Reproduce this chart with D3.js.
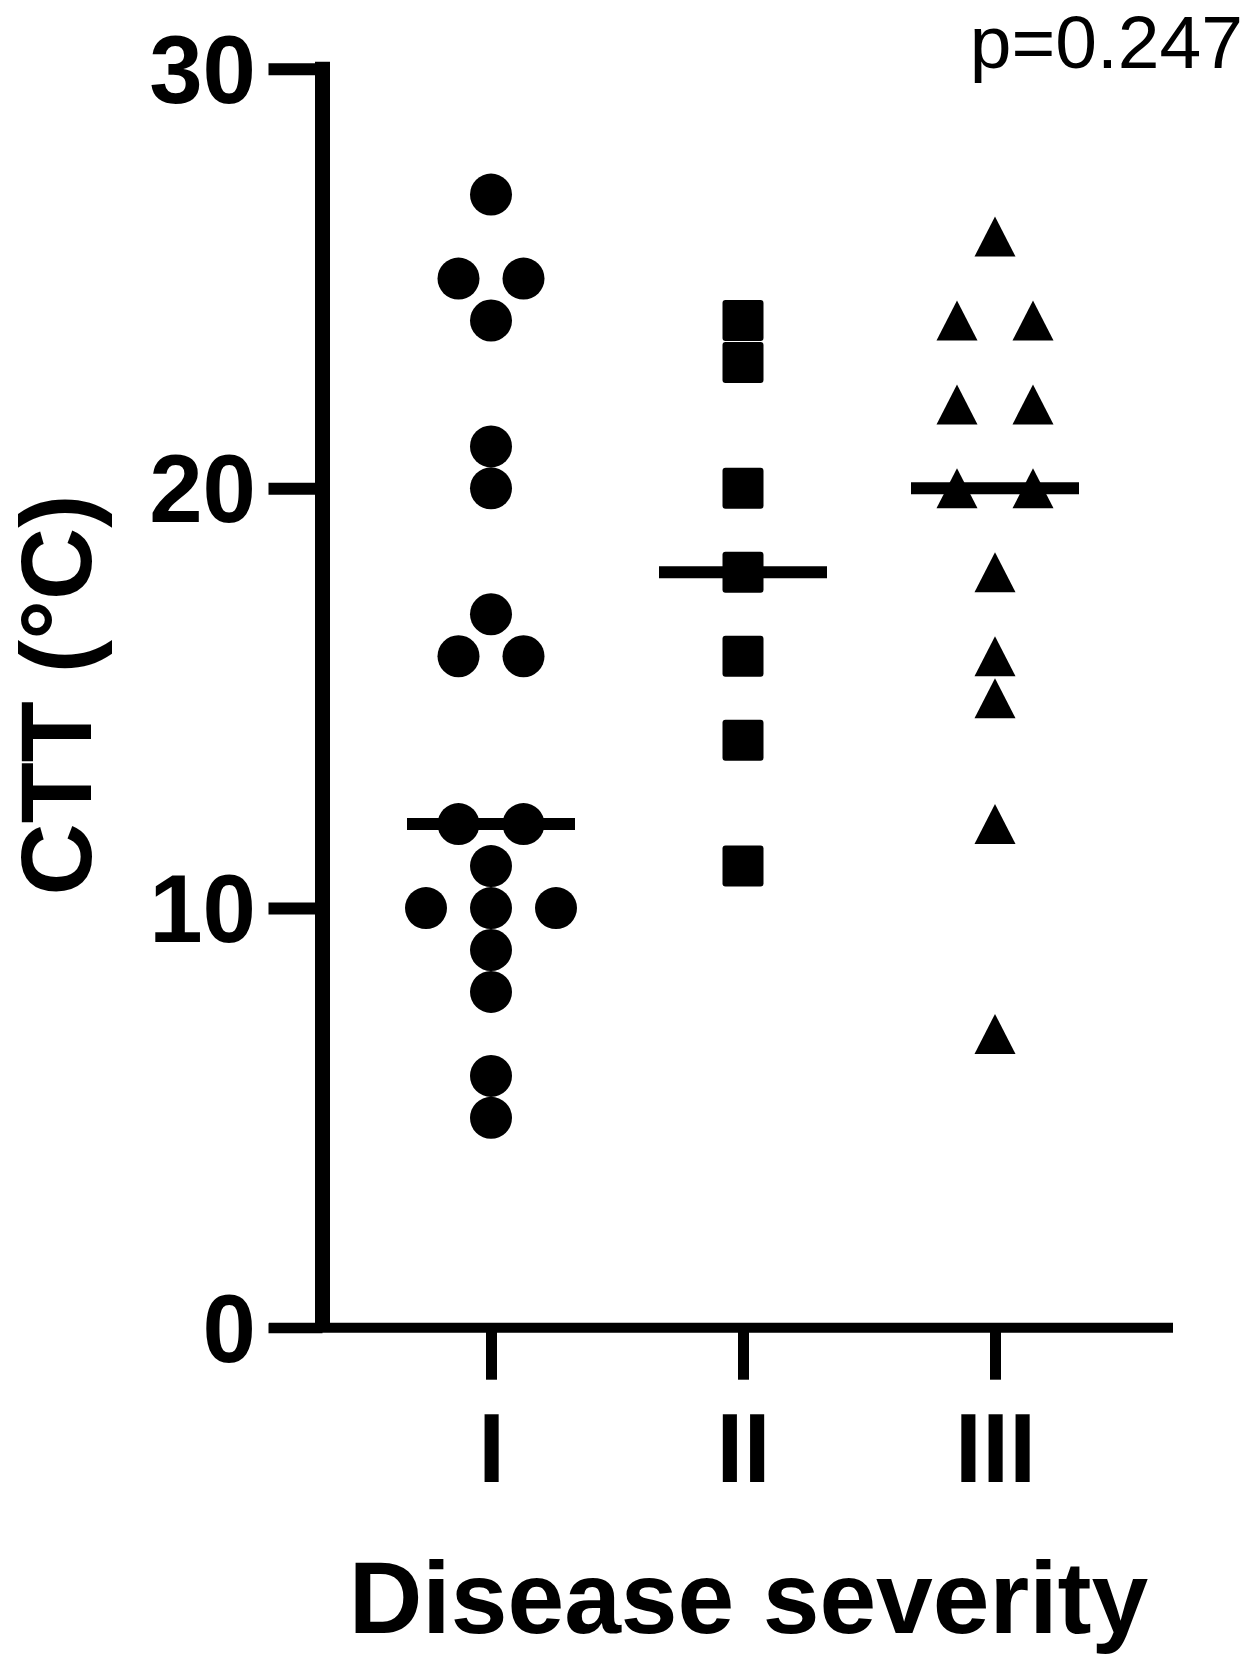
<!DOCTYPE html>
<html>
<head>
<meta charset="utf-8">
<script src="https://cdn.jsdelivr.net/npm/d3@7"></script>
<style>
  html, body { margin: 0; padding: 0; background: #fff; }
  svg { display: block; }
  text { font-family: "Liberation Sans", Arial, sans-serif; fill: #000; }
</style>
</head>
<body>
<svg id="chart" width="1250" height="1659"></svg>
<script>
// ---- Data ----
const categories = ["I", "II", "III"];
const groupI   = [27, 25, 25, 24, 21, 20, 17, 16, 16, 12, 12, 11, 10, 10, 10, 9, 8, 6, 5];
const groupII  = [24, 23, 20, 18, 16, 14, 11];
const groupIII = [26, 24, 24, 22, 22, 20, 20, 18, 16, 15, 12, 7];
const medians  = [12, 18, 20];
const yTicks   = [0, 10, 20, 30];
const pValueText = "p=0.247";
const yTitle = "CTT (°C)";
const xTitle = "Disease severity";

// ---- Layout ----
const svg = d3.select("#chart");
const axisX = 322.5;       // y-axis position
const y = d3.scaleLinear().domain([0, 30]).range([1327.7, 68.7]);
const x = d3.scalePoint().domain(categories).range([491, 995]);
const y0 = y(0);

// beeswarm offsets: identical values spread symmetrically
function swarm(values, step) {
  const counts = d3.rollup(values, v => v.length, d => d);
  const seen = new Map();
  return values.map(v => {
    const n = counts.get(v);
    const i = seen.get(v) || 0;
    seen.set(v, i + 1);
    return { v, off: (i - (n - 1) / 2) * step };
  });
}

// ---- Y axis ----
const yAxis = d3.axisLeft(y).tickValues(yTicks).tickSize(54).tickPadding(12.5).tickFormat(d3.format("d"));
const gy = svg.append("g").attr("transform", `translate(${axisX},0)`).call(yAxis);
gy.select(".domain").remove();
gy.selectAll(".tick line").attr("stroke", "#000").attr("stroke-width", 12);
gy.selectAll(".tick").filter(d => d === 0).select("line").attr("stroke-width", 10);
gy.selectAll(".tick text")
  .attr("dy", "0.35em")
  .style("font-size", "96px").style("font-weight", "bold")
  .style("font-family", '"Liberation Sans", Arial, sans-serif').attr("fill", "#000");
// y-axis line
svg.append("line")
  .attr("x1", axisX).attr("x2", axisX)
  .attr("y1", y(30) - 7).attr("y2", y0)
  .attr("stroke", "#000").attr("stroke-width", 15);

// ---- X axis ----
const xAxis = d3.axisBottom(x).tickSize(52).tickPadding(0);
const gx = svg.append("g").attr("transform", `translate(0,${y0})`).call(xAxis);
gx.select(".domain").remove();
gx.selectAll(".tick line").attr("stroke", "#000").attr("stroke-width", 11);
gx.selectAll(".tick text")
  .attr("y", 154.3).attr("dy", 0)
  .style("font-size", "98px").style("font-weight", "bold")
  .style("font-family", '"Liberation Sans", Arial, sans-serif').attr("fill", "#000");
svg.append("line")
  .attr("x1", 269).attr("x2", 1173)
  .attr("y1", y0).attr("y2", y0)
  .attr("stroke", "#000").attr("stroke-width", 10);

// ---- Points ----
const plot = svg.append("g");
// circles (I)
plot.selectAll("circle.g1").data(swarm(groupI, 65)).join("circle")
  .attr("class", "g1")
  .attr("cx", d => x("I") + d.off)
  .attr("cy", d => y(d.v))
  .attr("r", 21)
  .attr("fill", "#000");
// squares (II)
const sq = 41;
plot.selectAll("rect.g2").data(swarm(groupII, 65)).join("rect")
  .attr("class", "g2")
  .attr("x", d => x("II") + d.off - sq / 2)
  .attr("y", d => y(d.v) - sq / 2)
  .attr("width", sq).attr("height", sq)
  .attr("rx", 3)
  .attr("fill", "#000");
// triangles (III)
const tw = 41, th = 40;
const triPath = `M0,${-th/2}L${tw/2},${th/2}L${-tw/2},${th/2}Z`;
plot.selectAll("path.g3").data(swarm(groupIII, 76)).join("path")
  .attr("class", "g3")
  .attr("d", triPath)
  .attr("transform", d => `translate(${x("III") + d.off},${y(d.v)})`)
  .attr("fill", "#000");

// ---- Median lines ----
svg.selectAll("line.median").data(categories).join("line")
  .attr("class", "median")
  .attr("x1", (c) => x(c) - 84).attr("x2", (c) => x(c) + 84)
  .attr("y1", (c, i) => y(medians[i])).attr("y2", (c, i) => y(medians[i]))
  .attr("stroke", "#000").attr("stroke-width", 12);

// ---- Titles ----
svg.append("text")
  .attr("transform", "translate(91,695) rotate(-90)")
  .attr("text-anchor", "middle")
  .style("font-size", "100px").style("font-weight", "bold")
  .text(yTitle);

svg.append("text")
  .attr("x", 748.5).attr("y", 1633)
  .attr("text-anchor", "middle")
  .style("font-size", "102px").style("font-weight", "bold")
  .text(xTitle);

svg.append("text")
  .attr("x", 1243).attr("y", 68)
  .attr("text-anchor", "end")
  .style("font-size", "75px")
  .text(pValueText);
</script>
</body>
</html>
